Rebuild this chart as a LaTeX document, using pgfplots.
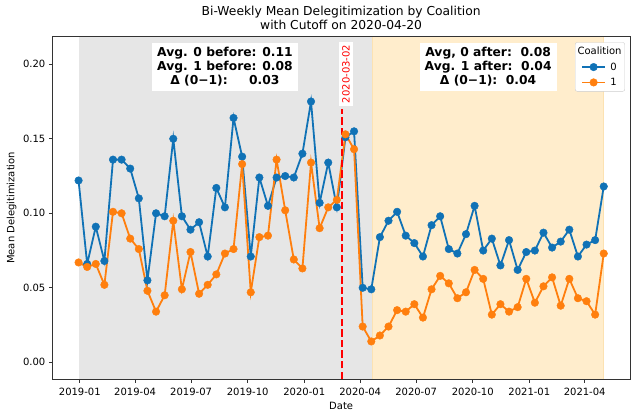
\documentclass[border=0pt]{standalone}
\usepackage{fontspec}
\setmainfont{DejaVu Sans}
\usepackage{pgfplots}
\pgfplotsset{compat=1.18}
\usepackage{pgfplotstable}
\definecolor{cblue}{RGB}{16,114,182}
\definecolor{corange}{RGB}{255,127,14}
\definecolor{shgray}{RGB}{230,230,230}
\definecolor{shorange}{RGB}{255,237,204}
\definecolor{shorangeedge}{RGB}{252,226,178}

\pgfplotstableread{
day val
-2 0.122
12 0.066
26 0.091
40 0.068
54 0.136
68 0.136
82 0.130
96 0.110
110 0.055
124 0.100
138 0.098
152 0.150
166 0.098
180 0.089
194 0.094
208 0.071
222 0.117
236 0.104
250 0.164
264 0.138
278 0.071
292 0.124
306 0.105
320 0.124
334 0.125
348 0.124
362 0.140
376 0.175
390 0.107
404 0.134
418 0.104
432 0.151
446 0.155
460 0.050
474 0.049
488 0.084
502 0.095
516 0.101
530 0.085
544 0.080
558 0.071
572 0.092
586 0.098
600 0.076
614 0.073
628 0.086
642 0.105
656 0.075
670 0.083
684 0.065
698 0.082
712 0.062
726 0.074
740 0.075
754 0.087
768 0.077
782 0.081
796 0.089
810 0.071
824 0.079
838 0.082
852 0.118
}\coalzero

\pgfplotstableread{
day val
-2 0.067
12 0.064
26 0.066
40 0.052
54 0.101
68 0.100
82 0.083
96 0.076
110 0.048
124 0.034
138 0.045
152 0.095
166 0.049
180 0.074
194 0.046
208 0.052
222 0.059
236 0.073
250 0.076
264 0.133
278 0.047
292 0.084
306 0.085
320 0.136
334 0.102
348 0.069
362 0.063
376 0.134
390 0.090
404 0.104
418 0.109
432 0.153
446 0.143
460 0.024
474 0.014
488 0.018
502 0.024
516 0.035
530 0.034
544 0.039
558 0.030
572 0.049
586 0.058
600 0.053
614 0.043
628 0.047
642 0.062
656 0.056
670 0.032
684 0.039
698 0.034
712 0.037
726 0.056
740 0.040
754 0.051
768 0.057
782 0.038
796 0.056
810 0.043
824 0.041
838 0.032
852 0.073
}\coalone

\begin{document}
\begin{tikzpicture}
\begin{axis}[
  name=ax,
  scale only axis, width=577.7pt, height=342.3pt,
  xmin=-44.7, xmax=894.7, ymin=-0.0112, ymax=0.2185,
  axis on top,
  axis line style={black!80, line width=0.8pt},
  tick pos=left, tick align=outside, major tick length=3.5pt,
  tick style={black!80, line width=0.8pt},
  xtick={0,90,181,273,365,456,547,639,731,821},
  xticklabels={2019-01,2019-04,2019-07,2019-10,2020-01,2020-04,2020-07,2020-10,2021-01,2021-04},
  ytick={0,0.05,0.1,0.15,0.2},
  scaled y ticks=false,
  yticklabel style={/pgf/number format/fixed, /pgf/number format/fixed zerofill, /pgf/number format/precision=2},
  ticklabel style={font=\fontsize{10}{12}\selectfont},
  xticklabel style={yshift=-2.5pt},
  /pgf/number format/assume math mode=true,
  xlabel={Date}, ylabel={Mean Delegitimization},
  label style={font=\fontsize{10}{12}\selectfont},
  xlabel style={at={(rel axis cs:0.5,-0.0584)}, anchor=north},
  ylabel style={at={(rel axis cs:-0.0559,0.5)}, anchor=south},
  legend style={at={(rel axis cs:0.9913,0.9836)}, anchor=north east,
    draw=black!20, rounded corners=2pt, fill=white,
    font=\fontsize{10}{12}\selectfont,
    inner xsep=6pt, inner ysep=2.5pt, row sep=2.5pt, column sep=2.4pt,
    nodes={inner sep=2pt}, cells={anchor=west}},
  legend image code/.code={\draw[mark repeat=2,mark phase=2] plot coordinates {(0pt,0pt)(11.5pt,0pt)(23pt,0pt)};},
]
\fill[shgray] (axis cs:-2,-0.0112) rectangle (axis cs:475,0.2185);
\filldraw[fill=shorange, draw=shorangeedge, line width=0.8pt] (axis cs:475,-0.0112) rectangle (axis cs:852,0.2185);

\addlegendimage{empty legend}
\addlegendentry{\rlap{\hspace{-32.8pt}Coalition}}

\addplot[cblue, line width=1.8pt, mark=*, mark size=3.8pt, mark options={solid, fill=cblue, draw=cblue, line width=0.4pt}] table[x=day, y=val] {\coalzero};
\addlegendentry{0}
\addplot[corange, line width=1.8pt, mark=*, mark size=3.8pt, mark options={solid, fill=corange, draw=corange, line width=0.4pt}] table[x=day, y=val] {\coalone};
\addlegendentry{1}

\addplot[red, line width=2pt, dash pattern=on 7.4pt off 3.2pt, forget plot] coordinates {(426,-0.0112) (426,0.1703)};

\node[fill=white, inner sep=3.33pt, rotate=90, text=red, font=\fontsize{10}{12}\selectfont] at (axis cs:433,0.1935) {2020-03-02};

\node[fill=white, inner xsep=5pt, inner ysep=4.5pt, align=center, font=\fontsize{12.3}{14}\selectfont\bfseries] at (axis cs:236,0.1983) {Avg. 0 before: 0.11\\Avg. 1 before: 0.08\\Δ (0−1):\ \ \ \ \ 0.03};
\node[fill=white, inner xsep=5pt, inner ysep=4.5pt, align=center, font=\fontsize{12.3}{14}\selectfont\bfseries] at (axis cs:664,0.1981) {Avg, 0 after:\ \ 0.08\\Avg. 1 after:\ \ 0.04\\Δ (0−1):\ \ 0.04};
\end{axis}
\node[anchor=base, font=\fontsize{12.3}{14}\selectfont] at ([yshift=21.2pt]ax.north) {Bi-Weekly Mean Delegitimization by Coalition};
\node[anchor=base, font=\fontsize{12.3}{14}\selectfont] at ([yshift=7.2pt]ax.north) {with Cutoff on 2020-04-20};
\pgfresetboundingbox
\path[use as bounding box] ([xshift=-52.3pt,yshift=-40pt]ax.south west) rectangle ([xshift=7pt,yshift=36.7pt]ax.north east);
\end{tikzpicture}
\end{document}
